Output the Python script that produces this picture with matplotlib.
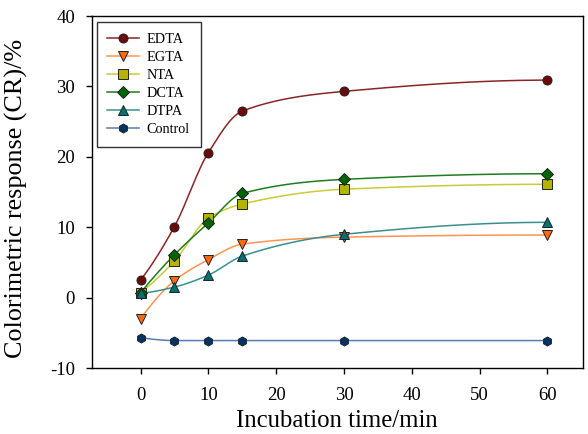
"""
Colorimetric response vs incubation time for several chelators
"""
import numpy as np
import matplotlib
matplotlib.use('Agg')
import matplotlib.pyplot as plt

# 數據
time_min = [0, 5, 10, 15, 30, 60]
edta = [2.5, 10.1, 20.6, 26.5, 29.3, 30.9]
egta = [-3.0, 2.4, 5.4, 7.6, 8.6, 8.9]
nta = [0.7, 5.2, 11.3, 13.3, 15.4, 16.1]
dcta = [0.7, 6.1, 10.6, 14.8, 16.8, 17.6]
dtpa = [0.6, 1.5, 3.2, 5.9, 9.0, 10.7]
control = [-5.7, -6.1, -6.1, -6.1, -6.1, -6.1]

series = [
    ("EDTA", edta, 'o', '#6B0A0A', '#8B2525'),
    ("EGTA", egta, 'v', '#FF6A10', '#FF9450'),
    ("NTA", nta, 's', '#B3B300', '#CACA3A'),
    ("DCTA", dcta, 'D', '#006400', '#1E7E1E'),
    ("DTPA", dtpa, '^', '#007070', '#3A8F8F'),
    ("Control", control, 'h', '#003366', '#5A7CAE'),
]


def pchip_curve(x, y, n=300):
    """保形三次插值，只用來畫平滑曲線"""
    x = np.asarray(x, float)
    y = np.asarray(y, float)
    h = np.diff(x)
    d = np.diff(y) / h
    m = np.zeros_like(y)
    for k in range(1, len(x) - 1):
        if d[k - 1] * d[k] > 0:
            w1 = 2 * h[k] + h[k - 1]
            w2 = h[k] + 2 * h[k - 1]
            m[k] = (w1 + w2) / (w1 / d[k - 1] + w2 / d[k])
    m[0] = ((2 * h[0] + h[1]) * d[0] - h[0] * d[1]) / (h[0] + h[1])
    if np.sign(m[0]) != np.sign(d[0]):
        m[0] = 0
    m[-1] = ((2 * h[-1] + h[-2]) * d[-1] - h[-1] * d[-2]) / (h[-1] + h[-2])
    if np.sign(m[-1]) != np.sign(d[-1]):
        m[-1] = 0
    xs = np.linspace(x[0], x[-1], n)
    idx = np.clip(np.searchsorted(x, xs) - 1, 0, len(x) - 2)
    t = (xs - x[idx]) / h[idx]
    h00 = 2 * t**3 - 3 * t**2 + 1
    h10 = t**3 - 2 * t**2 + t
    h01 = -2 * t**3 + 3 * t**2
    h11 = t**3 - t**2
    ys = h00 * y[idx] + h10 * h[idx] * m[idx] + h01 * y[idx + 1] + h11 * h[idx] * m[idx + 1]
    return xs, ys


plt.rcParams['font.family'] = ['Liberation Serif', 'DejaVu Serif']
plt.rcParams['axes.unicode_minus'] = False

fig = plt.figure(figsize=(5.88, 4.34), dpi=100)
ax = fig.add_axes([0.156, 0.152, 0.835, 0.811])

handles = []
for name, vals, mk, mcol, lcol in series:
    xs, ys = pchip_curve(time_min, vals)
    ax.plot(xs, ys, color=lcol, linewidth=1.1, zorder=2)
    ax.plot(time_min, vals, linestyle='none', marker=mk, markersize=6.5,
            markerfacecolor=mcol, markeredgecolor='#222222', markeredgewidth=0.7, zorder=3)
    h, = ax.plot([], [], color=lcol, linewidth=1.1, marker=mk, markersize=6.5,
                 markerfacecolor=mcol, markeredgecolor='#222222', markeredgewidth=0.7)
    handles.append((h, name))

ax.set_xlim(-7.2, 65.2)
ax.set_ylim(-10, 40)
ax.set_xticks(range(0, 61, 10))
ax.set_yticks(range(-10, 41, 10))
ax.tick_params(direction='out', length=4, width=1, labelsize=13.5, pad=8)
ax.tick_params(axis='x', pad=10)
for s in ax.spines.values():
    s.set_linewidth(1)

ax.set_xlabel("Incubation time/min", fontsize=17.8, labelpad=4)
ax.set_ylabel("Colorimetric response (CR)/%", fontsize=18.8)
ax.yaxis.set_label_coords(-0.13, 0.483)

leg = ax.legend([h for h, _ in handles], [n for _, n in handles],
                loc='upper left', bbox_to_anchor=(0.010, 0.983), borderaxespad=0,
                fontsize=10.3, frameon=True, fancybox=False, edgecolor='black',
                handlelength=2.2, labelspacing=0.35, borderpad=0.75, handletextpad=0.55)
leg.get_frame().set_linewidth(1)

fig.savefig("out.png", dpi=100)
plt.close()
